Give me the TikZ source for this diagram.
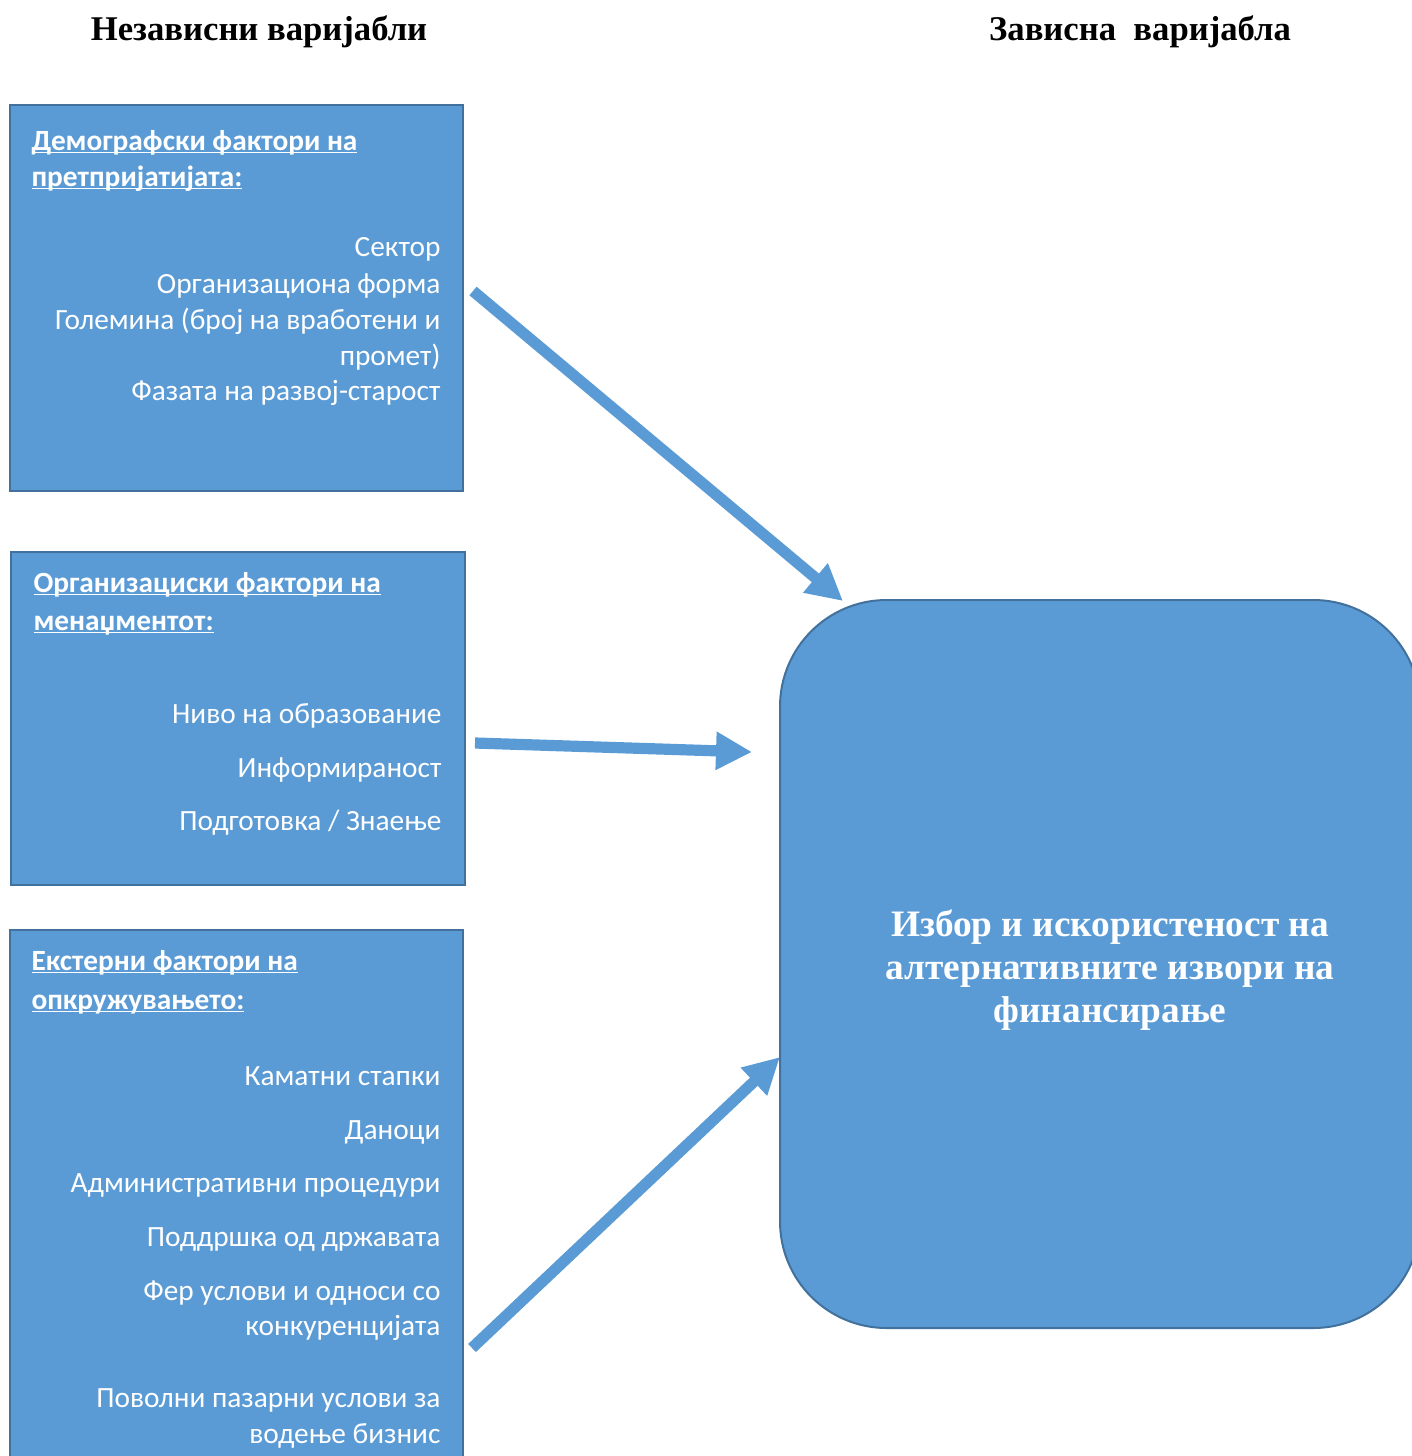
\documentclass[tikz,border=0pt]{standalone}
\usepackage{fontspec}
\setmainfont{Liberation Serif}
\newfontfamily\calibri{Carlito}
\usetikzlibrary{arrows.meta,positioning}

\definecolor{boxblue}{HTML}{5B9BD5}
\definecolor{edgeblue}{HTML}{41719C}

% underline that crosses the descenders, as Word draws it
\newcommand{\hul}[1]{\leavevmode\setbox0\hbox{#1}\rlap{\rule[-1.3pt]{\wd0}{0.7pt}}\box0}

\tikzset{
  factbox/.style={rectangle, draw=edgeblue, line width=0.75pt, fill=boxblue, inner sep=0pt},
  resultbox/.style={factbox, rounded corners=40pt},
  head/.style={anchor=base west, inner sep=0pt, text=white, font=\calibri\fontsize{11}{13.5}\selectfont\bfseries},
  item/.style={anchor=base east, inner sep=0pt, text=white, font=\calibri\fontsize{11}{13.5}\selectfont},
  title/.style={anchor=base, inner sep=0pt, font=\fontsize{13}{15}\selectfont\bfseries},
  flow/.style={draw=boxblue, line width=4.2pt, -{Triangle[width=13.5pt,length=13.5pt]}}
}

\begin{document}
\begin{tikzpicture}[x=0.375pt,y=-0.375pt]
\clip (0,0) rectangle (1412,1456);

% titles
\node[title] (indep) at (259,40) {Независни варијабли};
\node[title] (dep) at (1140,40) {Зависна\ \ варијабла};

% factor boxes
\node[factbox, minimum width=169.9pt, minimum height=144.75pt] (demo) at (236.5,298) {};
\node[factbox, minimum width=170.25pt, minimum height=124.9pt] (org) at (238,718.5) {};
\node[factbox, minimum width=169.9pt, minimum height=206.25pt] (ext) at (236.5,1205) {};

% result box
\node[resultbox, minimum width=240pt, minimum height=273pt] (result) at (1100,964) {};
\node[text=white, align=center, font=\fontsize{14}{16}\selectfont\bfseries] (resulttext) at (1110,970)
  {Избор и искористеност на\\алтернативните извори на\\финансирање};

% demographic factors
\node[head] (demohead1) at (31,150) {\hul{Демографски фактори на}};
\node[head] (demohead2) at (31,186) {\hul{претпријатијата:}};
\foreach \y/\t in {256/Сектор, 293/Организациона форма, 329/{Големина (број на вработени и}, 365/промет), 400/Фазата на развој-старост} {
  \node[item] at (441,\y) {\t};
}

% management factors
\node[head] (orghead1) at (33,592) {\hul{Организациски фактори на}};
\node[head] (orghead2) at (33,630) {\hul{менаџментот:}};
\foreach \y/\t in {723/Ниво на образование, 777/Информираност, 830/{Подготовка / Знаење}} {
  \node[item] at (442,\y) {\t};
}

% external factors
\node[head] (exthead1) at (31,970) {\hul{Екстерни фактори на}};
\node[head] (exthead2) at (31,1009) {\hul{опкружувањето:}};
\foreach \y/\t in {1085/Каматни стапки, 1139/Даноци, 1192/Административни процедури, 1246/Поддршка од државата, 1300/Фер услови и односи со, 1335/конкуренцијата, 1407/Поволни пазарни услови за, 1443/водење бизнис} {
  \node[item] at (441,\y) {\t};
}

% arrows
\coordinate (demoout) at (473,291);
\coordinate (orgout) at (475,743);
\coordinate (extout) at (472,1348);
\coordinate (in1) at (843,601);
\coordinate (in2) at (752,752);
\coordinate (in3) at (780,1057);
\draw[flow] (demoout) -- (in1);
\draw[flow] (orgout) -- (in2);
\draw[flow] (extout) -- (in3);
\end{tikzpicture}
\end{document}
